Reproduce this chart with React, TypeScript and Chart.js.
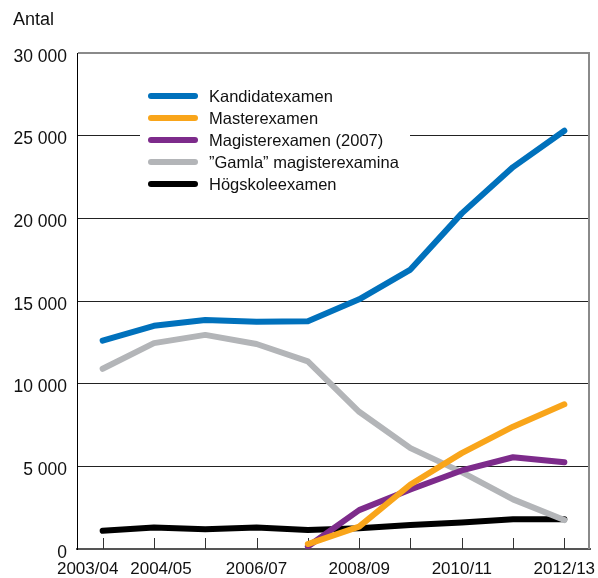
import React, { useEffect, useRef } from "react";
import { Chart, registerables } from "chart.js";

Chart.register(...registerables);

const categories = ["2003/04", "2004/05", "2005/06", "2006/07", "2007/08", "2008/09", "2009/10", "2010/11", "2011/12", "2012/13"];
const shownLabels = ["2003/04", "2004/05", "2006/07", "2008/09", "2010/11", "2012/13"];
const yTicks = [0, 5000, 10000, 15000, 20000, 25000, 30000];

const seriesNames = ["Kandidatexamen", "Masterexamen", "Magisterexamen (2007)", "\u201dGamla\u201d magisterexamina", "Högskoleexamen"];
const kandidat = [12600, 13500, 13850, 13750, 13780, 15100, 16900, 20300, 23100, 25300];
const master = [null, null, null, null, 300, 1350, 3900, 5800, 7400, 8750];
const magister = [null, null, null, null, 150, 2350, 3600, 4750, 5550, 5250];
const gamla = [10900, 12450, 12950, 12400, 11350, 8300, 6100, 4650, 3000, 1750];
const hogskole = [1100, 1300, 1200, 1300, 1150, 1250, 1450, 1600, 1800, 1800];

const colors = ["#0071BC", "#F9A51A", "#7D2B8B", "#B3B5B8", "#000000"];
const FONT = "'Liberation Sans', Arial, Helvetica, sans-serif";
const labelShift: Record<string, number> = { "2003/04": -15, "2004/05": 7 };

const decorPlugin = {
  id: "decor",
  beforeDatasetsDraw(chart: any) {
    const { ctx, chartArea } = chart;
    const xs = chart.scales.x;
    ctx.save();
    // inward tick marks
    ctx.strokeStyle = "#333";
    ctx.lineWidth = 1;
    categories.forEach((_, i) => {
      const x = Math.round(xs.getPixelForValue(i)) + 0.5;
      ctx.beginPath();
      ctx.moveTo(x, chartArea.bottom - 11);
      ctx.lineTo(x, chartArea.bottom);
      ctx.stroke();
    });
    // right border
    ctx.strokeStyle = "#8a8a8a";
    ctx.lineWidth = 2;
    ctx.beginPath();
    ctx.moveTo(chartArea.right - 1, chartArea.top);
    ctx.lineTo(chartArea.right - 1, chartArea.bottom);
    ctx.stroke();
    // legend box
    ctx.fillStyle = "#ffffff";
    ctx.fillRect(140, 78, 270, 118);
    chart.data.datasets.forEach((ds: any, i: number) => {
      const y = 96 + i * 22;
      ctx.strokeStyle = ds.borderColor;
      ctx.lineWidth = 6;
      ctx.lineCap = "round";
      ctx.beginPath();
      ctx.moveTo(151, y);
      ctx.lineTo(195, y);
      ctx.stroke();
      ctx.fillStyle = "#111";
      ctx.font = `16.5px ${FONT}`;
      ctx.textBaseline = "middle";
      ctx.textAlign = "left";
      ctx.fillText(ds.label, 209, y + 1);
    });
    ctx.restore();
  },
  afterDraw(chart: any) {
    const { ctx, chartArea } = chart;
    const xs = chart.scales.x;
    ctx.save();
    ctx.fillStyle = "#111";
    ctx.font = `18px ${FONT}`;
    ctx.textBaseline = "alphabetic";
    ctx.textAlign = "left";
    ctx.fillText("Antal", 13, 25);
    // x labels
    ctx.font = `17px ${FONT}`;
    ctx.textAlign = "center";
    ctx.textBaseline = "middle";
    categories.forEach((c, i) => {
      if (!shownLabels.includes(c)) return;
      const x = xs.getPixelForValue(i) + (labelShift[c] || 0);
      ctx.fillText(c, x, chartArea.bottom + 20);
    });
    ctx.restore();
  },
};

export default function App() {
  const ref = useRef<HTMLCanvasElement>(null);
  useEffect(() => {
    document.body.style.margin = "0";
    const values = [kandidat, master, magister, gamla, hogskole];
    const chart = new Chart(ref.current!, {
      type: "line",
      data: {
        labels: categories,
        datasets: values.map((v, i) => ({
          label: seriesNames[i],
          data: v,
          borderColor: colors[i],
          backgroundColor: colors[i],
          borderWidth: 6,
          pointRadius: 0,
          tension: 0,
          borderJoinStyle: "round",
          borderCapStyle: "round",
          spanGaps: false,
        })),
      },
      options: {
        animation: false,
        responsive: false,
        layout: { padding: { top: 53, right: 8, bottom: 29, left: 0 } },
        plugins: { legend: { display: false }, tooltip: { enabled: false }, title: { display: false } },
        scales: {
          x: {
            offset: true,
            grid: { display: false, drawTicks: false },
            border: { display: true, color: "#555", width: 2 },
            ticks: { display: false },
            afterFit: (s: any) => {
              s.height = 0;
            },
          },
          y: {
            min: 0,
            max: 30000,
            afterFit: (s: any) => {
              s.width = 77;
            },
            afterBuildTicks: (s: any) => {
              s.ticks = yTicks.map((v) => ({ value: v }));
            },
            grid: {
              drawTicks: false,
              color: (c: any) => (c.tick && c.tick.value === 30000 ? "#8a8a8a" : c.tick && c.tick.value === 0 ? "rgba(0,0,0,0)" : "#222"),
              lineWidth: (c: any) => (c.tick && c.tick.value === 30000 ? 2 : 1),
            },
            border: { display: true, color: "#000", width: 1 },
            ticks: {
              padding: 10,
              color: "#111",
              font: { family: FONT, size: 17.5 },
              labelOffset: (c: any) => (c.tick && c.tick.value === 0 ? -4 : 4),
              callback: (v: any) => (v === 0 ? "0" : `${v / 1000} 000`),
            },
          },
        },
      },
      plugins: [decorPlugin],
    } as any);
    return () => chart.destroy();
  }, []);
  return <canvas ref={ref} width={598} height={578} style={{ display: "block" }} />;
}
